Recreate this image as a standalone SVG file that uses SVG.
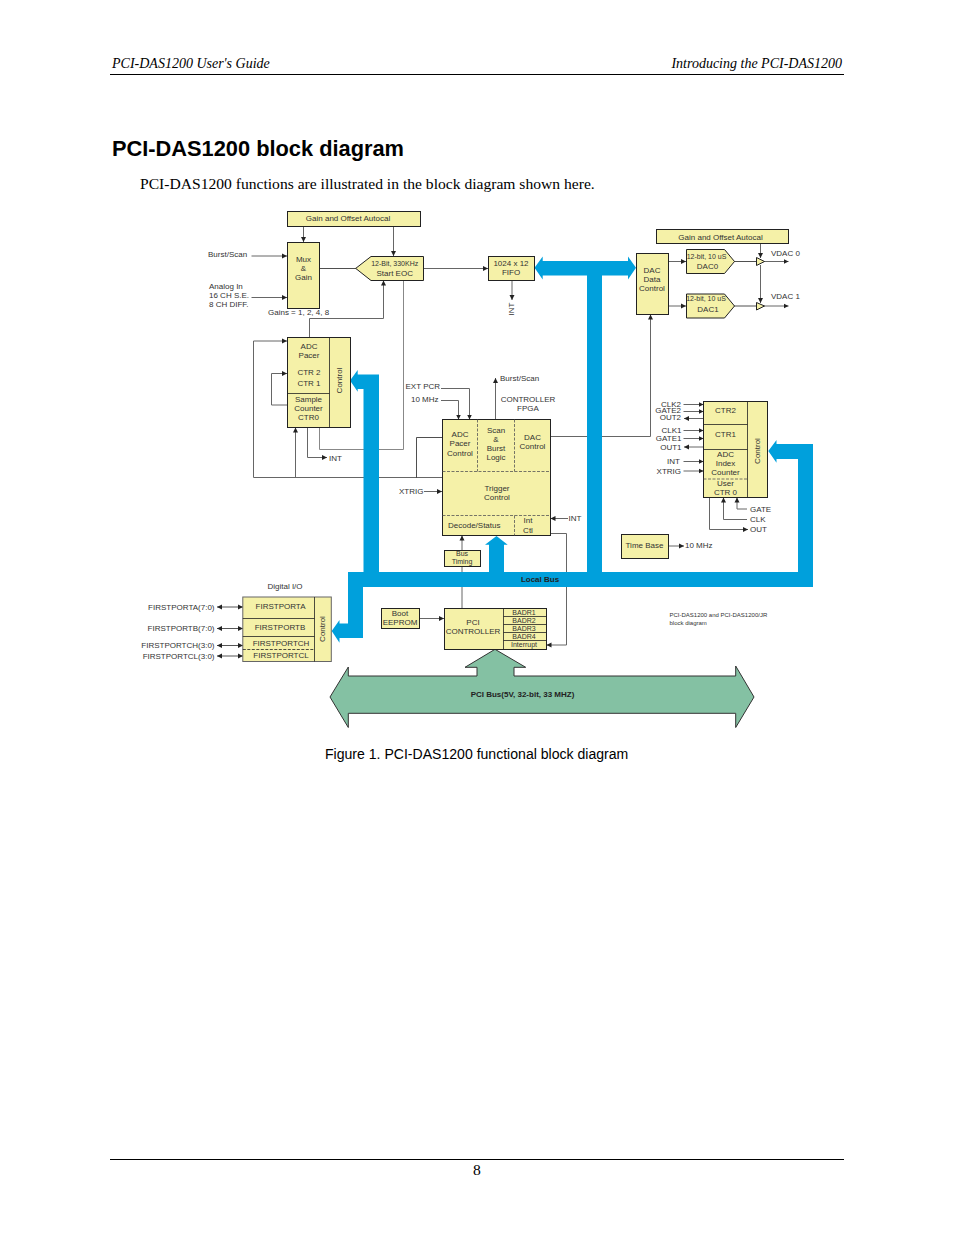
<svg xmlns="http://www.w3.org/2000/svg" width="954" height="1235" viewBox="0 0 954 1235">
<style>
text{font-family:"Liberation Sans",Arial,sans-serif;font-size:8px;fill:#333}
.m{text-anchor:middle}
.e{text-anchor:end}
.s{font-size:7px}
.b{font-weight:bold;font-size:8px}
.n{fill:#f5f1a8;stroke:#222;stroke-width:1}
.d{fill:none;stroke:#555;stroke-width:.8;stroke-dasharray:3 1.5}
.l{fill:none;stroke:#222;stroke-width:.8}
.c{fill:none;stroke:#666;stroke-width:1;marker-end:url(#a)}
.g{fill:none;stroke:#888;stroke-width:1}
.bi{fill:none;stroke:#555;stroke-width:1;marker-start:url(#r);marker-end:url(#a)}
.bus{fill:#00a0dc}
.pci{fill:#84c1a3;stroke:#333;stroke-width:1}
.h{font-family:"Liberation Serif","Times New Roman",serif;font-style:italic;font-size:14px;fill:#000}
</style>
<defs>
<marker id="a" markerUnits="userSpaceOnUse" markerWidth="6" markerHeight="6" refX="5" refY="3" orient="auto"><path d="M0 .5L5 3L0 5.500z" fill="#222"/></marker>
<marker id="r" markerUnits="userSpaceOnUse" markerWidth="6" markerHeight="6" refX="0" refY="3" orient="auto"><path d="M5 .5L0 3L5 5.500z" fill="#222"/></marker>
</defs>
<g id="page">
<text class="h" x="112" y="68">PCI-DAS1200 User's Guide</text>
<text class="h e" x="842" y="68">Introducing the PCI-DAS1200</text>
<path d="M110 74.500H844M110 1159.500H844" stroke="#000" fill="none"/>
<text x="112" y="156" style="font-size:21.800px;font-weight:bold;fill:#000">PCI-DAS1200 block diagram</text>
<text x="140" y="189" style="font-family:'Liberation Serif',serif;font-size:15.600px;fill:#000">PCI-DAS1200 functions are illustrated in the block diagram shown here.</text>
<text x="325" y="759" style="font-size:14.070px;fill:#000">Figure 1. PCI-DAS1200 functional block diagram</text>
<text class="m" x="477" y="1175" style="font-family:'Liberation Serif',serif;font-size:15.600px;fill:#000">8</text>
</g>
<g id="connectors">
<path class="c" d="M303.500 226V242"/>
<path class="c" d="M393.500 226V256"/>
<path class="c" d="M251.500 256H287"/>
<path class="c" d="M251.500 297.500H287"/>
<path class="l" d="M319.500 268.500H356"/>
<path class="c" d="M423 268.500H488"/>
<path class="c" d="M512 280V300"/>
<path class="c" d="M309.500 337V318.500H383.500V280.500"/>
<path class="g" d="M403.500 280.500V449.500H319.500V427"/>
<path class="c" d="M442 477.500H253.500V341H287"/>
<path class="c" d="M295.500 477.500V427.500"/>
<path class="l" d="M416.500 477.500V437.500H442"/>
<path class="c" d="M287 405H271.500V373.500H287"/>
<path class="c" d="M307.500 427V457.500H327"/>
<path class="c" d="M441 388.500H469.500V419.500"/>
<path class="c" d="M441 400.500H458.500V419.500"/>
<path class="c" d="M495.500 419.500V378"/>
<path class="c" d="M550.500 436.500H650.500V314.500"/>
<path class="c" d="M424 491.500H442"/>
<path class="c" d="M568 518.500H550.500"/>
<path class="c" d="M550.500 533.500H566.500V645H546.500"/>
<path class="c" d="M462 608V535.500"/>
<path class="c" d="M419.500 618.500H444"/>
<path class="c" d="M668 261.500H686"/>
<path class="c" d="M668 306H686"/>
<path class="l" d="M734 261.500H756M734 306H756"/>
<path class="c" d="M764 261.500H788.500"/>
<path class="c" d="M764 306H788.500"/>
<path class="c" d="M760.500 243V258"/>
<path class="c" d="M760.500 265V303"/>
<path class="c" d="M683.500 404.500H703.500"/>
<path class="c" d="M683.500 411.500H703.500"/>
<path class="c" d="M703.500 418.500H684"/>
<path class="c" d="M683.500 430.500H703.500"/>
<path class="c" d="M683.500 438.500H703.500"/>
<path class="c" d="M703.500 447H684"/>
<path class="c" d="M683.500 461.500H703.500"/>
<path class="c" d="M683.500 471H703.500"/>
<path class="c" d="M747 509H737V497.500"/>
<path class="c" d="M747 519.500H723.500V497.500"/>
<path class="c" d="M709.500 497.500V529.500H748"/>
<path class="c" d="M669 546H684"/>
<path class="bi" d="M217 607H243"/>
<path class="bi" d="M217 628.500H243"/>
<path class="bi" d="M217 645.500H243"/>
<path class="bi" d="M217 656H243"/>
</g>
<g id="buses">
<path class="bus" d="M534.500 267.700L542.700 256.500V261H628V256.500L636 267.700L628 279.500V275.500H602V572H798V459H776.500V462.700L768.300 451L776.500 440V444H813V587H363V638H339.500V642.700L331.700 631L339.500 620V623.500H348V572H363.500V389H357.700V391.700L350 380.500L357.700 370V374.500H379V572H489V544.700H485L496.500 536L507.700 544.700H504V572H587V275.500H542.700V279.500Z"/>
<text class="b m" x="540" y="582" style="fill:#222">Local Bus</text>
</g>
<g id="pci-bus">
<path class="pci" d="M330 697L348.300 667V676H477V667.300H465L495 649.300L525.700 667.300H514V676H735.700V666L754 697L735.700 727.500V713.300H348.300V727.500Z"/>
<text class="b m" x="522.500" y="697" style="fill:#222">PCI Bus(5V, 32-bit, 33 MHZ)</text>
</g>
<g id="gain-left"><rect class="n" x="287.500" y="211.500" width="133" height="15"/><text class="m" x="348" y="221">Gain and Offset Autocal</text></g>
<g id="mux"><rect class="n" x="287.500" y="242.500" width="32" height="66"/><text class="m" x="303.500" y="262">Mux</text><text class="m" x="303.500" y="271">&amp;</text><text class="m" x="303.500" y="280">Gain</text></g>
<g id="adc"><path class="n" d="M355.700 268.400L371 256.500H423.500V280.500H371Z"/><text class="m s" x="394.700" y="266">12-Bit, 330KHz</text><text class="m" x="394.700" y="276">Start EOC</text></g>
<g id="fifo"><rect class="n" x="488.500" y="256.500" width="46" height="24"/><text class="m" x="511" y="266">1024 x 12</text><text class="m" x="511" y="275">FIFO</text></g>
<g id="dac-data"><rect class="n" x="636.500" y="253.500" width="32" height="61"/><text class="m" x="652" y="273">DAC</text><text class="m" x="652" y="282">Data</text><text class="m" x="652" y="291">Control</text></g>
<g id="gain-right"><rect class="n" x="656.500" y="229.500" width="132" height="14"/><text class="m" x="720.500" y="239.500">Gain and Offset Autocal</text></g>
<g id="dac0"><path class="n" d="M686.500 249.500H724.500L734.500 261.500L724.500 273.500H686.500Z"/><text class="m s" x="706.500" y="259">12-bit, 10 uS</text><text class="m" x="707.500" y="269">DAC0</text></g>
<g id="dac1"><path class="n" d="M686.500 294H724.500L734.500 306L724.500 318H686.500Z"/><text class="m s" x="706" y="301">12-bit, 10 uS</text><text class="m" x="708" y="312">DAC1</text></g>
<g id="amp0"><path class="n" d="M756.500 257.500L764.500 261.500L756.500 265.500Z"/></g>
<g id="amp1"><path class="n" d="M756.500 302.500L764.500 306L756.500 310Z"/></g>
<g id="adc-pacer"><rect class="n" x="287.500" y="337.500" width="63" height="90"/><path class="l" d="M329.500 337.500V427.500M287.500 393.500H329.500"/>
<text class="m" x="309" y="349">ADC</text><text class="m" x="309" y="358">Pacer</text><text class="m" x="309" y="375">CTR 2</text><text class="m" x="309" y="386">CTR 1</text><text class="m" x="308.500" y="402">Sample</text><text class="m" x="308.500" y="411">Counter</text><text class="m" x="308.500" y="420">CTR0</text>
<text class="m" transform="translate(342 380.500) rotate(-90)">Control</text></g>
<g id="fpga"><rect class="n" x="442.500" y="419.500" width="108" height="116"/><path class="d" d="M477.500 419.500V471.500M514.500 419.500V471.500M442.500 471.500H550.500M442.500 515.500H550.500M514.500 515.500V535.500"/>
<text class="m" x="460" y="437">ADC</text><text class="m" x="460" y="446">Pacer</text><text class="m" x="460" y="456">Control</text>
<text class="m" x="496" y="433">Scan</text><text class="m" x="496" y="442">&amp;</text><text class="m" x="496" y="451">Burst</text><text class="m" x="496" y="460">Logic</text>
<text class="m" x="532.500" y="440">DAC</text><text class="m" x="532.500" y="449">Control</text>
<text class="m" x="497" y="491">Trigger</text><text class="m" x="497" y="500">Control</text>
<text x="448" y="528">Decode/Status</text><text class="m" x="528" y="523">Int</text><text class="m" x="528" y="533">Ctl</text></g>
<g id="bus-timing"><rect class="n" x="444.500" y="550.500" width="36" height="16"/><text class="m s" x="462" y="556">Bus</text><text class="m s" x="462" y="564">Timing</text></g>
<g id="counters"><rect class="n" x="703.500" y="401.500" width="64" height="96"/><path class="l" d="M747.500 401.500V497.500M703.500 424.500H747.500M703.500 449.500H747.500"/><path class="d" d="M703.500 479H747.500"/>
<text class="m" x="725.500" y="413">CTR2</text><text class="m" x="725.500" y="437">CTR1</text><text class="m" x="725.500" y="457">ADC</text><text class="m" x="725.500" y="466">Index</text><text class="m" x="725.500" y="475">Counter</text><text class="m" x="725.500" y="486">User</text><text class="m" x="725.500" y="495">CTR 0</text>
<text class="m" transform="translate(760 451) rotate(-90)">Control</text></g>
<g id="time-base"><rect class="n" x="621.500" y="534.500" width="47" height="24"/><text class="m" x="644.500" y="548">Time Base</text></g>
<g id="digital-io"><rect class="n" x="242.800" y="597" width="88.500" height="64.500" style="stroke:#666"/><path class="l" d="M314.500 597V661.500M242.800 618.500H314.500M242.800 636.500H314.500"/><path class="d" style="stroke:#222" d="M242.800 649.500H314.500"/>
<text class="m" x="280.500" y="609">FIRSTPORTA</text><text class="m" x="280" y="630">FIRSTPORTB</text><text class="m" x="281" y="646">FIRSTPORTCH</text><text class="m" x="281" y="658">FIRSTPORTCL</text>
<text class="m" transform="translate(325 629) rotate(-90)">Control</text></g>
<g id="boot"><rect class="n" x="381.500" y="608.500" width="38" height="20"/><text class="m" x="400" y="616">Boot</text><text class="m" x="400" y="625">EEPROM</text></g>
<g id="pci-controller"><rect class="n" x="444.500" y="608.500" width="102" height="41"/><path class="l" d="M503.500 608.500V649.500M503.500 616.500H546.500M503.500 624.500H546.500M503.500 632.500H546.500M503.500 640.500H546.500"/>
<text class="m" x="473" y="625">PCI</text><text class="m" x="473" y="634">CONTROLLER</text>
<text class="m s" x="524" y="615">BADR1</text><text class="m s" x="524" y="623">BADR2</text><text class="m s" x="524" y="631">BADR3</text><text class="m s" x="524" y="639">BADR4</text><text class="m s" x="524" y="646.500">Interrupt</text></g>
<g id="labels">
<text x="208" y="257">Burst/Scan</text>
<text x="209" y="289">Analog In</text><text x="209" y="298">16 CH S.E.</text><text x="209" y="307">8 CH DIFF.</text>
<text x="268" y="315">Gains = 1, 2, 4, 8</text>
<text x="329" y="461">INT</text>
<text x="405.500" y="389">EXT PCR</text><text x="411" y="402">10 MHz</text>
<text x="500" y="381">Burst/Scan</text>
<text class="m" x="528" y="402">CONTROLLER</text><text class="m" x="528" y="411">FPGA</text>
<text x="399" y="494">XTRIG</text>
<text x="568.500" y="521">INT</text>
<text class="m" x="285" y="589">Digital I/O</text>
<text class="e" x="214.500" y="610">FIRSTPORTA(7:0)</text><text class="e" x="214.500" y="631">FIRSTPORTB(7:0)</text><text class="e" x="214.500" y="648">FIRSTPORTCH(3:0)</text><text class="e" x="214.500" y="659">FIRSTPORTCL(3:0)</text>
<text class="m" transform="translate(514 309) rotate(-90)">INT</text>
<text x="771" y="256">VDAC 0</text><text x="771" y="299">VDAC 1</text>
<text class="e" x="681" y="407">CLK2</text><text class="e" x="681" y="413">GATE2</text><text class="e" x="681" y="420">OUT2</text>
<text class="e" x="681.500" y="433">CLK1</text><text class="e" x="681.500" y="441">GATE1</text><text class="e" x="681.500" y="450">OUT1</text>
<text class="e" x="680" y="464">INT</text><text class="e" x="681" y="474">XTRIG</text>
<text x="750" y="512">GATE</text><text x="750" y="522">CLK</text><text x="750" y="532">OUT</text>
<text x="685" y="548">10 MHz</text>
<text x="669.500" y="617" style="font-size:6px">PCI-DAS1200 and PCI-DAS1200/JR</text><text x="669.500" y="625" style="font-size:6px">block diagram</text>
</g>
</svg>
